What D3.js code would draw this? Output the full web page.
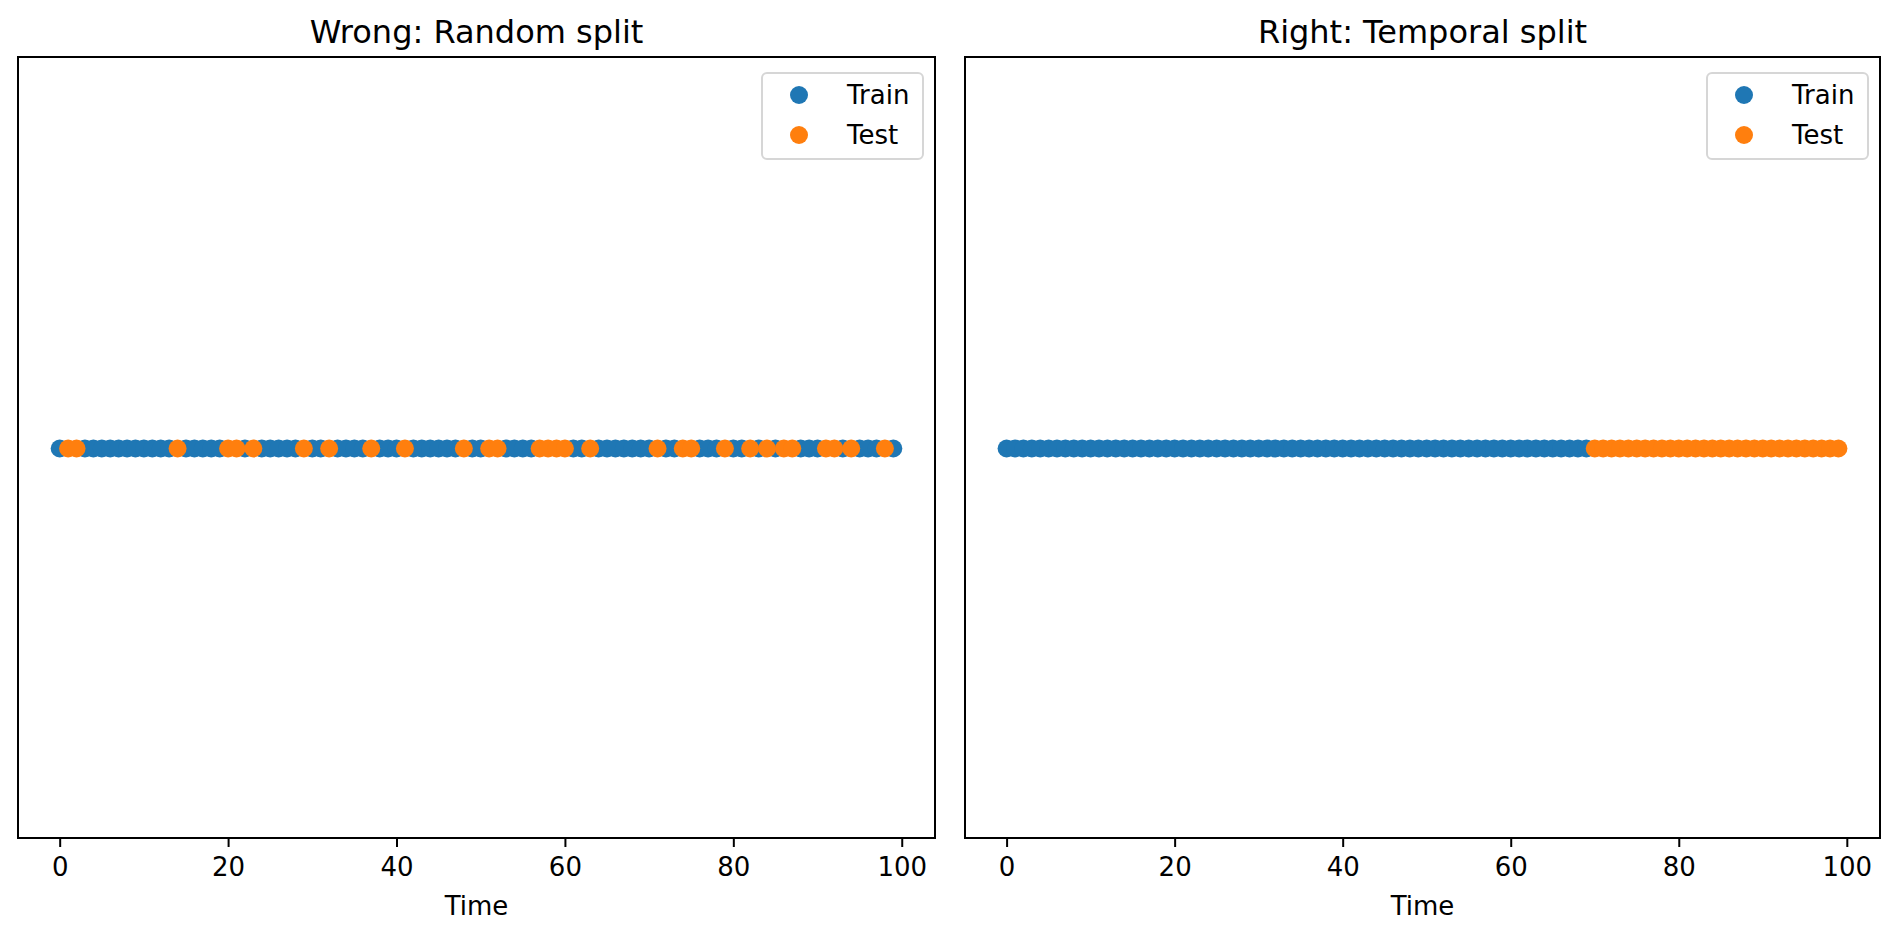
<!DOCTYPE html>
<html>
<head>
<meta charset="utf-8">
<script src="https://cdn.jsdelivr.net/npm/d3@7"></script>
<style>
  html, body { margin: 0; padding: 0; background: #fff; }
  svg { display: block; }
  text { font-family: "DejaVu Sans", sans-serif; fill: #000; }
</style>
</head>
<body>
<svg id="chart" width="1899" height="940"></svg>
<script>
// ---- data ----
const panelTitles = ["Wrong: Random split", "Right: Temporal split"];
const seriesNames = ["Train", "Test"];
const xTicks = [0, 20, 40, 60, 80, 100];
const xLabel = "Time";

// Left panel: random split (time indices)
const randomTrain = [0,3,4,5,6,7,8,9,10,11,12,13,15,16,17,18,19,22,24,25,26,27,28,30,31,33,34,35,36,38,39,40,42,43,44,45,46,47,49,50,53,54,55,56,61,62,64,65,66,67,68,69,70,72,73,76,77,78,80,81,83,85,88,89,90,93,95,96,97,99];
const randomTest = [1,2,14,20,21,23,29,32,37,41,48,51,52,57,58,59,60,63,71,74,75,79,82,84,86,87,91,92,94,98];

// Right panel: temporal split (time indices)
const temporalTrain = [0,1,2,3,4,5,6,7,8,9,10,11,12,13,14,15,16,17,18,19,20,21,22,23,24,25,26,27,28,29,30,31,32,33,34,35,36,37,38,39,40,41,42,43,44,45,46,47,48,49,50,51,52,53,54,55,56,57,58,59,60,61,62,63,64,65,66,67,68,69];
const temporalTest = [70,71,72,73,74,75,76,77,78,79,80,81,82,83,84,85,86,87,88,89,90,91,92,93,94,95,96,97,98,99];

const yValue = 0; // all points drawn on a single line

const colors = ["#1f77b4", "#ff7f0e"];

const panels = [
  { title: panelTitles[0], series: [randomTrain, randomTest], left: 18, right: 935 },
  { title: panelTitles[1], series: [temporalTrain, temporalTest], left: 965, right: 1880 }
];

// ---- layout ----
const plotTop = 57, plotBottom = 838;
const r = 9;
const fontTick = 26, fontTitle = 32;

const svg = d3.select("#chart");

panels.forEach(p => {
  const g = svg.append("g");
  const x = d3.scaleLinear().domain([-4.95, 103.95]).range([p.left, p.right]);
  const y = d3.scaleLinear().domain([-0.055, 0.055]).range([plotBottom, plotTop]);

  // points
  p.series.forEach((vals, si) => {
    g.append("g").selectAll("circle").data(vals).join("circle")
      .attr("cx", d => x(d))
      .attr("cy", y(yValue) + 1)
      .attr("r", r)
      .attr("fill", colors[si]);
  });

  // frame
  g.append("rect")
    .attr("x", p.left).attr("y", plotTop)
    .attr("width", p.right - p.left).attr("height", plotBottom - plotTop)
    .attr("fill", "none").attr("stroke", "#000").attr("stroke-width", 2);

  // x axis
  const axis = d3.axisBottom(x).tickValues(xTicks).tickSize(9).tickPadding(9).tickFormat(d3.format("d"));
  const ax = g.append("g").attr("transform", `translate(0,${plotBottom})`).call(axis);
  ax.select(".domain").remove();
  ax.selectAll(".tick line").attr("stroke", "#000").attr("stroke-width", 2);
  ax.selectAll(".tick text")
    .attr("font-family", "DejaVu Sans")
    .attr("font-size", fontTick)
    .attr("fill", "#000")
    .attr("dy", "0.76em");

  // x label
  g.append("text")
    .attr("x", (p.left + p.right) / 2)
    .attr("y", 915)
    .attr("text-anchor", "middle")
    .attr("font-size", fontTick)
    .text(xLabel);

  // title
  g.append("text")
    .attr("x", (p.left + p.right) / 2)
    .attr("y", 43)
    .attr("text-anchor", "middle")
    .attr("font-size", fontTitle)
    .text(p.title);

  // legend
  const lx = p.right - 173, ly = 73, lw = 161, lh = 86;
  const lg = g.append("g");
  lg.append("rect")
    .attr("x", lx).attr("y", ly).attr("width", lw).attr("height", lh)
    .attr("rx", 5).attr("ry", 5)
    .attr("fill", "#fff").attr("fill-opacity", 0.8)
    .attr("stroke", "#d6d6d6").attr("stroke-width", 2);
  seriesNames.forEach((name, i) => {
    const cy = ly + 22 + i * 40;
    lg.append("circle").attr("cx", lx + 37).attr("cy", cy).attr("r", r).attr("fill", colors[i]);
    lg.append("text")
      .attr("x", lx + 85).attr("y", cy)
      .attr("dy", "0.36em")
      .attr("font-size", fontTick)
      .text(name);
  });
});
</script>
</body>
</html>
